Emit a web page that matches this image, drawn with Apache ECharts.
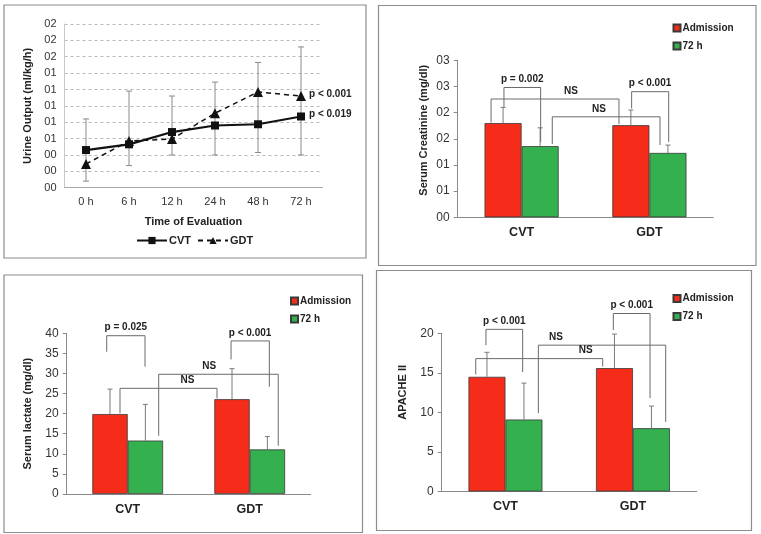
<!DOCTYPE html>
<html>
<head>
<meta charset="utf-8">
<script src="https://cdn.jsdelivr.net/npm/echarts@6/dist/echarts.min.js"></script>
<style>
  html, body { margin: 0; padding: 0; background: #fff; }
  #chart { width: 761px; height: 534px; }
</style>
</head>
<body>
<div id="chart"></div>
<script>
// urine output, top left
const timePoints = ['0 h', '6 h', '12 h', '24 h', '48 h', '72 h'];
const urineCVT = [0.46, 0.53, 0.68, 0.76, 0.775, 0.87];
const urineGDT = [0.29, 0.57, 0.595, 0.91, 1.17, 1.12];
const urineErrLow = [0.08, 0.27, 0.40, 0.40, 0.43, 0.40];
const urineErrHigh = [0.84, 1.18, 1.12, 1.29, 1.53, 1.72];
const urineTicks = ['00', '00', '00', '01', '01', '01', '01', '01', '02', '02', '02'];

const groups = ['CVT', 'GDT'];

// serum creatinine, top right
const creatAdm = [1.80, 1.76];
const creat72 = [1.36, 1.23];
const creatAdmErr = [2.10, 2.05];
const creat72Err = [1.71, 1.38];
const creatTicks = ['00', '01', '01', '02', '02', '03', '03'];

// serum lactate, bottom left
const lactAdm = [19.9, 23.6];
const lact72 = [13.3, 11.1];
const lactAdmErr = [26.1, 31.2];
const lact72Err = [22.3, 14.3];

// APACHE II, bottom right
const apacheAdm = [14.5, 15.6];
const apache72 = [9.1, 8.0];
const apacheAdmErr = [17.6, 19.9];
const apache72Err = [13.7, 10.8];

// significance brackets: [xLeft, xRight, yLeftEnd, yRightEnd, yTop, xLabel, text]
// x in group units (0 = CVT, 1 = GDT)
const creatBrackets = [
  [-0.138, 0.149, 2.11, 1.44, 2.48, 0.005, 'p = 0.002'],
  [-0.239, 0.762, 1.81, 1.78, 2.26, 0.387, 'NS'],
  [0.240, 1.083, 1.40, 1.38, 1.92, 0.606, 'NS'],
  [0.861, 1.151, 2.08, 1.44, 2.40, 1.005, 'p < 0.001']
];
const lactBrackets = [
  [-0.172, 0.142, 35.4, 31.7, 39.4, -0.015, 'p = 0.025'],
  [0.254, 1.234, 14.5, 12.0, 29.8, 0.669, 'NS'],
  [-0.063, 0.732, 20.1, 23.8, 26.3, 0.489, 'NS'],
  [0.847, 1.161, 33.5, 26.7, 38.1, 1.003, 'p < 0.001']
];
const apacheBrackets = [
  [-0.153, 0.135, 18.5, 15.1, 20.5, -0.009, 'p < 0.001'],
  [0.258, 1.257, 9.9, 8.8, 18.5, 0.396, 'NS'],
  [-0.233, 0.763, 14.8, 15.8, 16.8, 0.629, 'NS'],
  [0.846, 1.134, 20.4, 11.8, 22.5, 0.99, 'p < 0.001']
];

const RED = '#f52c1a';
const GREEN = '#34b04e';
const FONT = '"Liberation Sans", Arial, sans-serif';
const BAR_SHIFT = 0.145; // half of barWidth 29%

const chart = echarts.init(document.getElementById('chart'));

function lineErrorItem(params, api) {
  const lo = api.coord([api.value(0), api.value(1)]);
  const hi = api.coord([api.value(0), api.value(2)]);
  const st = { stroke: '#8a8a8a', lineWidth: 1 };
  return {
    type: 'group',
    children: [
      { type: 'line', shape: { x1: lo[0], y1: lo[1], x2: hi[0], y2: hi[1] }, style: st },
      { type: 'line', shape: { x1: lo[0] - 3, y1: lo[1], x2: lo[0] + 3, y2: lo[1] }, style: st },
      { type: 'line', shape: { x1: hi[0] - 3, y1: hi[1], x2: hi[0] + 3, y2: hi[1] }, style: st }
    ]
  };
}

function barErrorItem(params, api) {
  const lo = api.coord([api.value(0), api.value(1)]);
  const hi = api.coord([api.value(0), api.value(2)]);
  const st = { stroke: '#7a7a7a', lineWidth: 1 };
  return {
    type: 'group',
    children: [
      { type: 'line', shape: { x1: lo[0], y1: lo[1], x2: hi[0], y2: hi[1] }, style: st },
      { type: 'line', shape: { x1: hi[0] - 2.5, y1: hi[1], x2: hi[0] + 2.5, y2: hi[1] }, style: st }
    ]
  };
}

function errorSeries(xIdx, yIdx, adm, admErr, h72, h72Err) {
  const data = [];
  groups.forEach(function (g, i) {
    data.push([i - BAR_SHIFT, adm[i], admErr[i]]);
    data.push([i + BAR_SHIFT, h72[i], h72Err[i]]);
  });
  return {
    type: 'custom', xAxisIndex: xIdx, yAxisIndex: yIdx, silent: true, z: 3, clip: false,
    renderItem: barErrorItem, encode: { x: 0, y: [1, 2] }, data: data
  };
}

function bracketSeries(xIdx, yIdx, brackets) {
  return {
    type: 'custom', xAxisIndex: xIdx, yAxisIndex: yIdx, silent: true, z: 4, clip: false,
    encode: { x: 0, y: 1 },
    data: brackets.map(function (b) { return [b[0], b[4]]; }),
    renderItem: function (params, api) {
      const b = brackets[params.dataIndex];
      const pL = api.coord([b[0], b[2]]);
      const pTL = api.coord([b[0], b[4]]);
      const pTR = api.coord([b[1], b[4]]);
      const pR = api.coord([b[1], b[3]]);
      const pLab = api.coord([b[5], b[4]]);
      return {
        type: 'group',
        children: [
          { type: 'polyline', shape: { points: [pL, pTL, pTR, pR] },
            style: { stroke: '#6a6a6a', lineWidth: 1, fill: null } },
          { type: 'text', x: pLab[0], y: pLab[1] - 3,
            style: { text: b[6], align: 'center', verticalAlign: 'bottom',
                     font: 'bold 10px ' + FONT, fill: '#222' } }
        ]
      };
    }
  };
}

function barPair(xIdx, yIdx, adm, h72) {
  const common = {
    type: 'bar', xAxisIndex: xIdx, yAxisIndex: yIdx, barWidth: '29%', barGap: '0%', z: 2
  };
  return [
    Object.assign({}, common, { name: 'Admission', data: adm,
      itemStyle: { color: RED, borderColor: '#3a3a3a', borderWidth: 0.8 } }),
    Object.assign({}, common, { name: '72 h', data: h72,
      itemStyle: { color: GREEN, borderColor: '#3a3a3a', borderWidth: 0.8 } })
  ];
}

function catAxis(gridIdx, cats) {
  return {
    type: 'category', gridIndex: gridIdx, data: cats, position: 'bottom',
    axisLine: { show: true, onZero: false, lineStyle: { color: '#8a8a8a', width: 1 } },
    axisTick: { show: false },
    axisLabel: { color: '#222', fontSize: 12.5, fontWeight: 'bold', margin: 9, fontFamily: FONT },
    splitLine: { show: false }
  };
}

function hiddenAxis(gridIdx) {
  return { type: 'value', gridIndex: gridIdx, min: -0.5, max: 1.5, show: false,
    axisLine: { onZero: false }, splitLine: { show: false } };
}

function barYAxis(gridIdx, max, interval, name, nameGap, namePad, formatter) {
  return {
    type: 'value', gridIndex: gridIdx, min: 0, max: max, interval: interval,
    name: name, nameLocation: 'middle', nameGap: nameGap,
    nameTextStyle: { color: '#222', fontSize: 11, fontWeight: 'bold', fontFamily: FONT, padding: namePad },
    axisLine: { show: true, onZero: false, lineStyle: { color: '#8a8a8a', width: 1 } },
    axisTick: { show: true, length: 4, lineStyle: { color: '#8a8a8a' } },
    axisLabel: { color: '#333', fontSize: 12, margin: 8, fontFamily: FONT, formatter: formatter },
    splitLine: { show: false }
  };
}

function barLegend(left, top) {
  return {
    data: ['Admission', '72 h'], orient: 'vertical', left: left, top: top, padding: 0,
    icon: 'rect', itemWidth: 7, itemHeight: 7, itemGap: 4, selectedMode: false,
    textStyle: { color: '#222', fontSize: 10, fontWeight: 'bold', fontFamily: FONT, lineHeight: 14, padding: [0, 0, 0, -3] }
  };
}

const option = {
  animation: false,
  backgroundColor: '#fff',
  textStyle: { fontFamily: FONT },
  graphic: [
    { type: 'rect', silent: true, shape: { x: 4, y: 5, width: 362, height: 253 },
      style: { fill: 'none', stroke: '#8c8c8c', lineWidth: 1.2 } },
    { type: 'rect', silent: true, shape: { x: 378.5, y: 5.5, width: 377.5, height: 260 },
      style: { fill: 'none', stroke: '#8c8c8c', lineWidth: 1.2 } },
    { type: 'rect', silent: true, shape: { x: 4, y: 275, width: 358.5, height: 257.5 },
      style: { fill: 'none', stroke: '#8c8c8c', lineWidth: 1.2 } },
    { type: 'rect', silent: true, shape: { x: 376.5, y: 270.5, width: 375, height: 260 },
      style: { fill: 'none', stroke: '#8c8c8c', lineWidth: 1.2 } }
  ],
  legend: [
    {
      data: ['CVT', 'GDT'], left: 136, top: 235, padding: 0, itemWidth: 30, itemHeight: 9, itemGap: 6,
      selectedMode: false,
      textStyle: { color: '#222', fontSize: 11, fontWeight: 'bold', fontFamily: FONT, padding: [0, 0, 0, -3] }
    },
    barLegend(672.5, 21),
    barLegend(290, 294),
    barLegend(672.5, 291.5)
  ],
  grid: [
    { left: 64.5, top: 24, width: 258, height: 163.7, containLabel: false, outerBoundsMode: 'none' },
    { left: 457.7, top: 60.3, width: 255.6, height: 157, containLabel: false, outerBoundsMode: 'none' },
    { left: 66.7, top: 333.3, width: 244, height: 160.7, containLabel: false, outerBoundsMode: 'none' },
    { left: 441.7, top: 333.3, width: 255, height: 158.2, containLabel: false, outerBoundsMode: 'none' }
  ],
  xAxis: [
    {
      type: 'category', gridIndex: 0, data: timePoints, position: 'bottom',
      name: 'Time of Evaluation', nameLocation: 'middle', nameGap: 29,
      nameTextStyle: { color: '#222', fontSize: 11, fontWeight: 'bold', fontFamily: FONT },
      axisLine: { show: true, onZero: false, lineStyle: { color: '#a8a8a8', width: 1 } },
      axisTick: { show: false },
      axisLabel: { color: '#333', fontSize: 11, margin: 9, fontFamily: FONT },
      splitLine: { show: false }
    },
    catAxis(1, groups), hiddenAxis(1),
    catAxis(2, groups), hiddenAxis(2),
    catAxis(3, groups), hiddenAxis(3)
  ],
  yAxis: [
    {
      type: 'value', gridIndex: 0, min: 0, max: 2, interval: 0.2,
      name: 'Urine Output (ml/kg/h)', nameLocation: 'middle', nameGap: 31,
      nameTextStyle: { color: '#222', fontSize: 11, fontWeight: 'bold', fontFamily: FONT },
      axisLine: { show: true, onZero: false, lineStyle: { color: '#c8c8c8', width: 1 } },
      axisTick: { show: false },
      axisLabel: { color: '#333', fontSize: 11, margin: 8, fontFamily: FONT,
        formatter: function (v) { return urineTicks[Math.round(v / 0.2)]; } },
      splitLine: { show: true, lineStyle: { color: '#b8b8b8', type: [3, 3], width: 1 } }
    },
    barYAxis(1, 3, 0.5, 'Serum Creatinine (mg/dl)', 28, [0, 0, 0, 17],
      function (v) { return creatTicks[Math.round(v / 0.5)]; }),
    barYAxis(2, 40, 5, 'Serum lactate (mg/dl)', 33, [0, 0, 0, 0], '{value}'),
    barYAxis(3, 20, 5, 'APACHE II', 33, [0, 0, 0, 40], '{value}')
  ],
  series: [
    {
      type: 'custom', xAxisIndex: 0, yAxisIndex: 0, silent: true, z: 1, clip: false,
      renderItem: lineErrorItem, encode: { x: 0, y: [1, 2] },
      data: timePoints.map(function (t, i) { return [i, urineErrLow[i], urineErrHigh[i]]; })
    },
    {
      name: 'CVT', type: 'line', xAxisIndex: 0, yAxisIndex: 0, data: urineCVT, z: 4,
      symbol: 'rect', symbolSize: 8, showSymbol: true,
      itemStyle: { color: '#111' }, lineStyle: { color: '#111', width: 2.2 },
      endLabel: { show: true, formatter: 'p < 0.019', distance: 8, offset: [0, -2],
        color: '#222', fontSize: 10, fontWeight: 'bold', fontFamily: FONT }
    },
    {
      name: 'GDT', type: 'line', xAxisIndex: 0, yAxisIndex: 0, data: urineGDT, z: 3,
      symbol: 'triangle', symbolSize: 10, showSymbol: true,
      itemStyle: { color: '#111' }, lineStyle: { color: '#111', width: 1.5, type: [5, 4] },
      endLabel: { show: true, formatter: 'p < 0.001', distance: 8, offset: [0, -2],
        color: '#222', fontSize: 10, fontWeight: 'bold', fontFamily: FONT }
    }
  ]
    .concat(barPair(1, 1, creatAdm, creat72))
    .concat([errorSeries(2, 1, creatAdm, creatAdmErr, creat72, creat72Err), bracketSeries(2, 1, creatBrackets)])
    .concat(barPair(3, 2, lactAdm, lact72))
    .concat([errorSeries(4, 2, lactAdm, lactAdmErr, lact72, lact72Err), bracketSeries(4, 2, lactBrackets)])
    .concat(barPair(5, 3, apacheAdm, apache72))
    .concat([errorSeries(6, 3, apacheAdm, apacheAdmErr, apache72, apache72Err), bracketSeries(6, 3, apacheBrackets)])
};

chart.setOption(option);
</script>
</body>
</html>
